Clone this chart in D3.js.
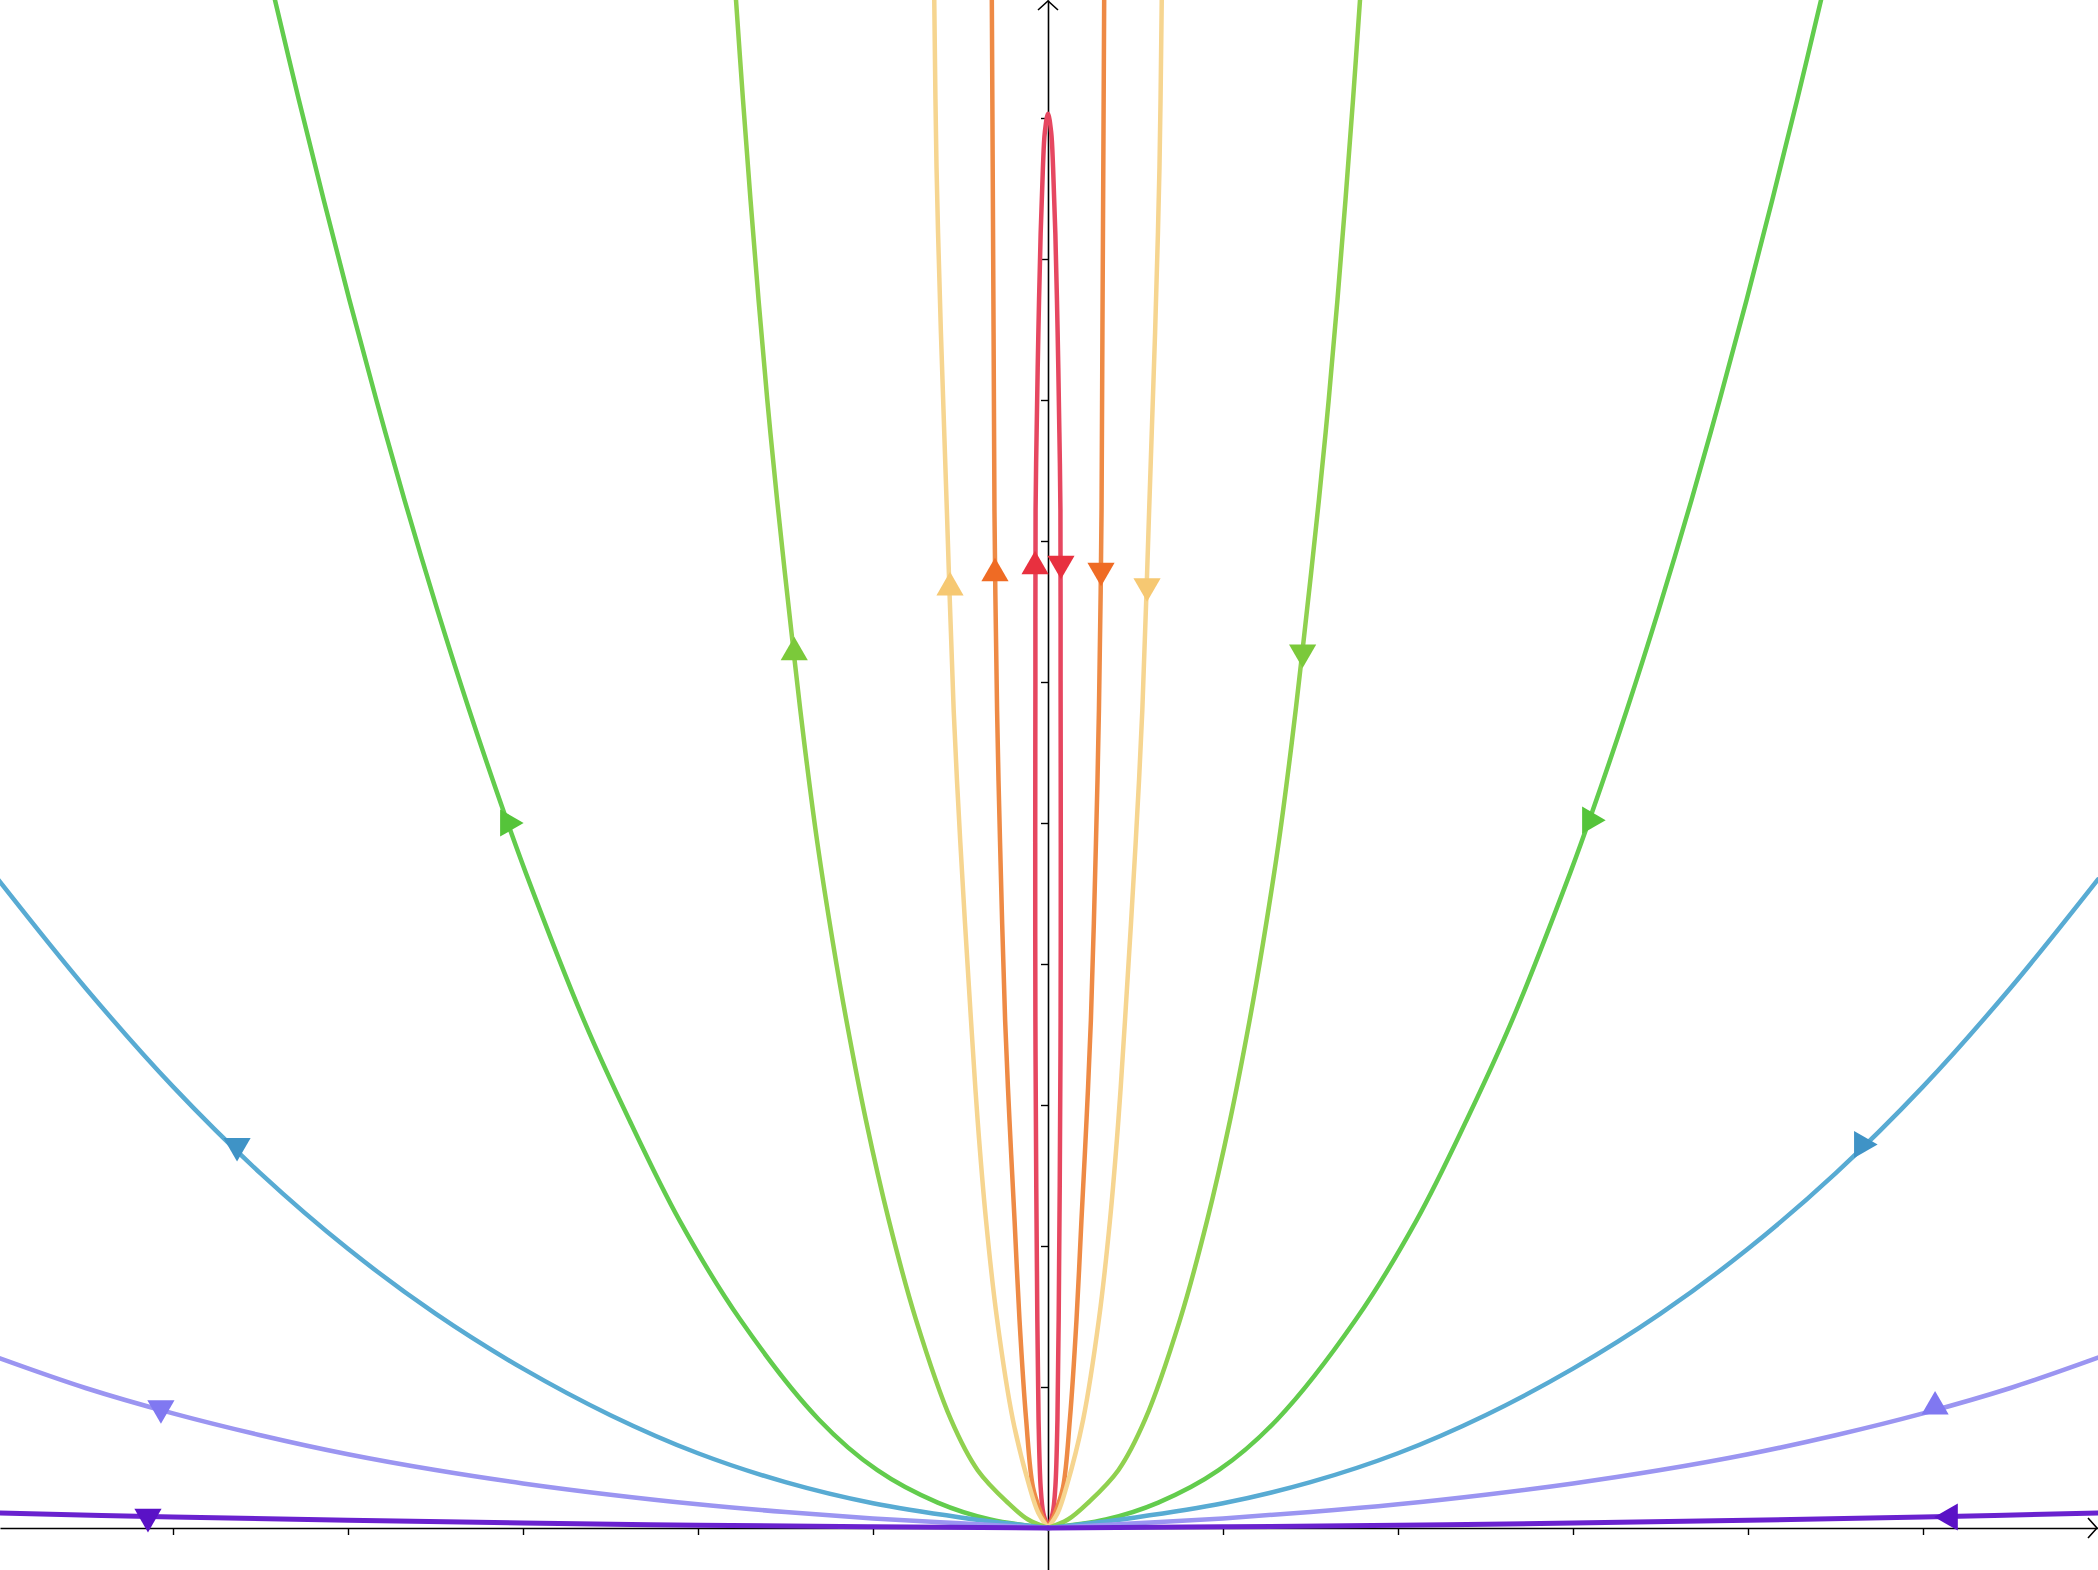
<!DOCTYPE html>
<html>
<head>
<meta charset="utf-8">
<script src="https://cdn.jsdelivr.net/npm/d3@7"></script>
<style>
html,body{margin:0;padding:0;background:#fff;}
svg{display:block;}
</style>
</head>
<body>
<svg id="chart" width="2098" height="1570"></svg>
<script>
// ---- Data (right half of each symmetric trajectory: X, Y) ----
const seriesNames = ["red","orange","yellow","lightgreen","green","blue","lavender","purple"];
const lineColors  = ["#e64760","#ee8a45","#f6d590","#90d14f","#62cc4d","#58abd3","#9b95f1","#6a22cf"];
const markColors  = ["#e8303f","#ef6b24","#f6c872","#7bc93a","#55c43a","#3f93c6","#8078f1","#5a12c6"];
const closedLoop  = [true,false,false,false,false,false,false,false];

const redX = [0, 0.027, 0.042, 0.054, 0.061, 0.067, 0.072, 0.073, 0.072, 0.071, 0.065, 0.055, 0.042, 0.029, 0.018, 0];
const redY = [0, 0.106, 0.29, 0.77, 1.48, 2.42, 3.60, 4.86, 6.01, 7.22, 7.77, 8.48, 9.18, 9.65, 9.90, 10.03];

const orangeX = [0, 0.040, 0.086, 0.125, 0.163, 0.191, 0.220, 0.245, 0.274, 0.291, 0.306, 0.311, 0.316, 0.321];
const orangeY = [0, 0.106, 0.29, 0.77, 1.48, 2.18, 2.89, 3.60, 4.86, 5.80, 7.22, 8.48, 9.65, 10.84];

const yellowX = [0, 0.055, 0.105, 0.201, 0.291, 0.354, 0.402, 0.440, 0.501, 0.539, 0.578, 0.612, 0.637, 0.650];
const yellowY = [0, 0.106, 0.29, 0.77, 1.48, 2.18, 2.89, 3.60, 4.86, 5.80, 7.22, 8.48, 9.65, 10.84];

const lightgreenX = [0, 0.114, 0.230, 0.402, 0.555, 0.755, 0.909, 1.040, 1.152, 1.229, 1.318, 1.393, 1.455, 1.548, 1.604, 1.654, 1.700, 1.743, 1.783];
const lightgreenY = [0, 0.06, 0.18, 0.41, 0.77, 1.48, 2.18, 2.89, 3.60, 4.15, 4.86, 5.57, 6.23, 7.29, 8.00, 8.71, 9.42, 10.13, 10.84];

const greenX = [0, 0.33, 0.63, 0.975, 1.31, 1.76, 2.105, 2.391, 2.652, 2.985, 3.113, 3.307, 3.489, 3.677, 3.838, 3.992, 4.139, 4.281, 4.418];
const greenY = [0, 0.06, 0.18, 0.41, 0.77, 1.48, 2.18, 2.89, 3.60, 4.65, 5.09, 5.80, 6.51, 7.29, 8.00, 8.71, 9.42, 10.13, 10.84];

const blueX = [0, 0.5, 1.0, 1.5, 2.0, 2.5, 3.0, 3.5, 4.0, 4.5, 5.0, 5.5, 6.0];
const blueY = [0, 0.075, 0.175, 0.325, 0.53, 0.80, 1.13, 1.52, 1.98, 2.515, 3.13, 3.83, 4.60];

const lavenderX = [0, 0.5, 1.0, 1.5, 2.0, 2.5, 3.0, 3.5, 4.0, 4.5, 5.0, 5.5, 6.0];
const lavenderY = [0, 0.033, 0.068, 0.113, 0.168, 0.236, 0.316, 0.411, 0.523, 0.658, 0.813, 0.993, 1.208];

const purpleX = [0, 1, 2, 3, 4, 5, 6];
const purpleY = [0, 0.008, 0.020, 0.035, 0.055, 0.078, 0.106];

const seriesX = [redX, orangeX, yellowX, lightgreenX, greenX, blueX, lavenderX, purpleX];
const seriesY = [redY, orangeY, yellowY, lightgreenY, greenY, blueY, lavenderY, purpleY];

// ---- Direction markers ----
const markerSeries = [0, 1, 2, 3, 4, 5, 6, 7, 0, 1, 2, 3, 4, 5, 6, 7];
const markerX = [0.074, 0.303, 0.566, 1.455, 3.097, 4.651, 5.069, 5.154, -0.074, -0.303, -0.560, -1.450, -3.086, -4.634, -5.069, -5.143];
const markerY = [6.84, 6.79, 6.68, 6.21, 5.02, 2.72, 0.86, 0.078, 6.82, 6.77, 6.67, 6.21, 5.00, 2.71, 0.85, 0.08];
const markerAngle = [180, 180, 180, 180, 90, 90, 0, 270, 0, 0, 0, 0, 90, 180, 180, 180];

// ---- Axis ticks ----
const xTicks = [-5, -4, -3, -2, -1, 1, 2, 3, 4, 5];
const yTicks = [1, 2, 3, 4, 5, 6, 7, 8, 9, 10];

const W = 2098, H = 1570;
const svg = d3.select("#chart");
svg.append("rect").attr("width", W).attr("height", H).attr("fill", "#fff");

const x = d3.scaleLinear().domain([-1048 / 175, 1050 / 175]).range([0, W]);
const y = d3.scaleLinear().domain([-42 / 141, 1528 / 141]).range([H, 0]);

// axes
const gx = svg.append("g").attr("transform", `translate(0,${y(0)})`)
  .call(d3.axisBottom(x).tickValues(xTicks).tickSizeInner(7).tickSizeOuter(0).tickFormat(""));
const gy = svg.append("g").attr("transform", `translate(${x(0)},0)`)
  .call(d3.axisLeft(y).tickValues(yTicks).tickSizeInner(7).tickSizeOuter(0).tickFormat(""));
[gx, gy].forEach(g => {
  g.selectAll("path.domain").attr("stroke", "#000").attr("stroke-width", 1.6);
  g.selectAll(".tick line").attr("stroke", "#000").attr("stroke-width", 1.4);
});
// axis arrow heads
const ax = svg.append("g").attr("fill", "none").attr("stroke", "#000").attr("stroke-width", 1.6);
ax.append("path").attr("d", `M${W - 10},${y(0) - 10}L${W - 1},${y(0)}L${W - 10},${y(0) + 10}`);
ax.append("path").attr("d", `M${x(0) - 10},${10}L${x(0)},${1}L${x(0) + 10},${10}`);

// curves
const pathLine = d3.line().x(d => x(d[0])).y(d => y(d[1])).curve(d3.curveCatmullRom.alpha(0.5));
const curves = svg.append("g").attr("fill", "none").attr("stroke-linejoin", "round").attr("stroke-linecap", "round");

seriesNames.forEach((name, i) => {
  const half = seriesX[i].map((v, k) => [v, seriesY[i][k]]);
  const sw = name === "purple" ? 5 : 4.5;
  if (closedLoop[i]) {
    const up = half.map(p => [-p[0], p[1]]);
    const down = half.slice(0, -1).reverse();
    curves.append("path").attr("d", pathLine(up.concat(down)))
      .attr("stroke", lineColors[i]).attr("stroke-width", sw);
  } else {
    const mirror = half.map(p => [-p[0], p[1]]);
    [mirror, half].forEach(h => {
      curves.append("path").attr("d", pathLine(h))
        .attr("stroke", lineColors[i]).attr("stroke-width", sw);
    });
  }
});

// markers
const tri = d3.symbol().type(d3.symbolTriangle).size(320);
svg.append("g").selectAll("path.mk")
  .data(markerX.map((v, k) => k))
  .join("path")
  .attr("class", "mk")
  .attr("d", tri())
  .attr("fill", k => markColors[markerSeries[k]])
  .attr("transform", k => `translate(${x(markerX[k])},${y(markerY[k])}) rotate(${markerAngle[k]})`);
</script>
</body>
</html>
